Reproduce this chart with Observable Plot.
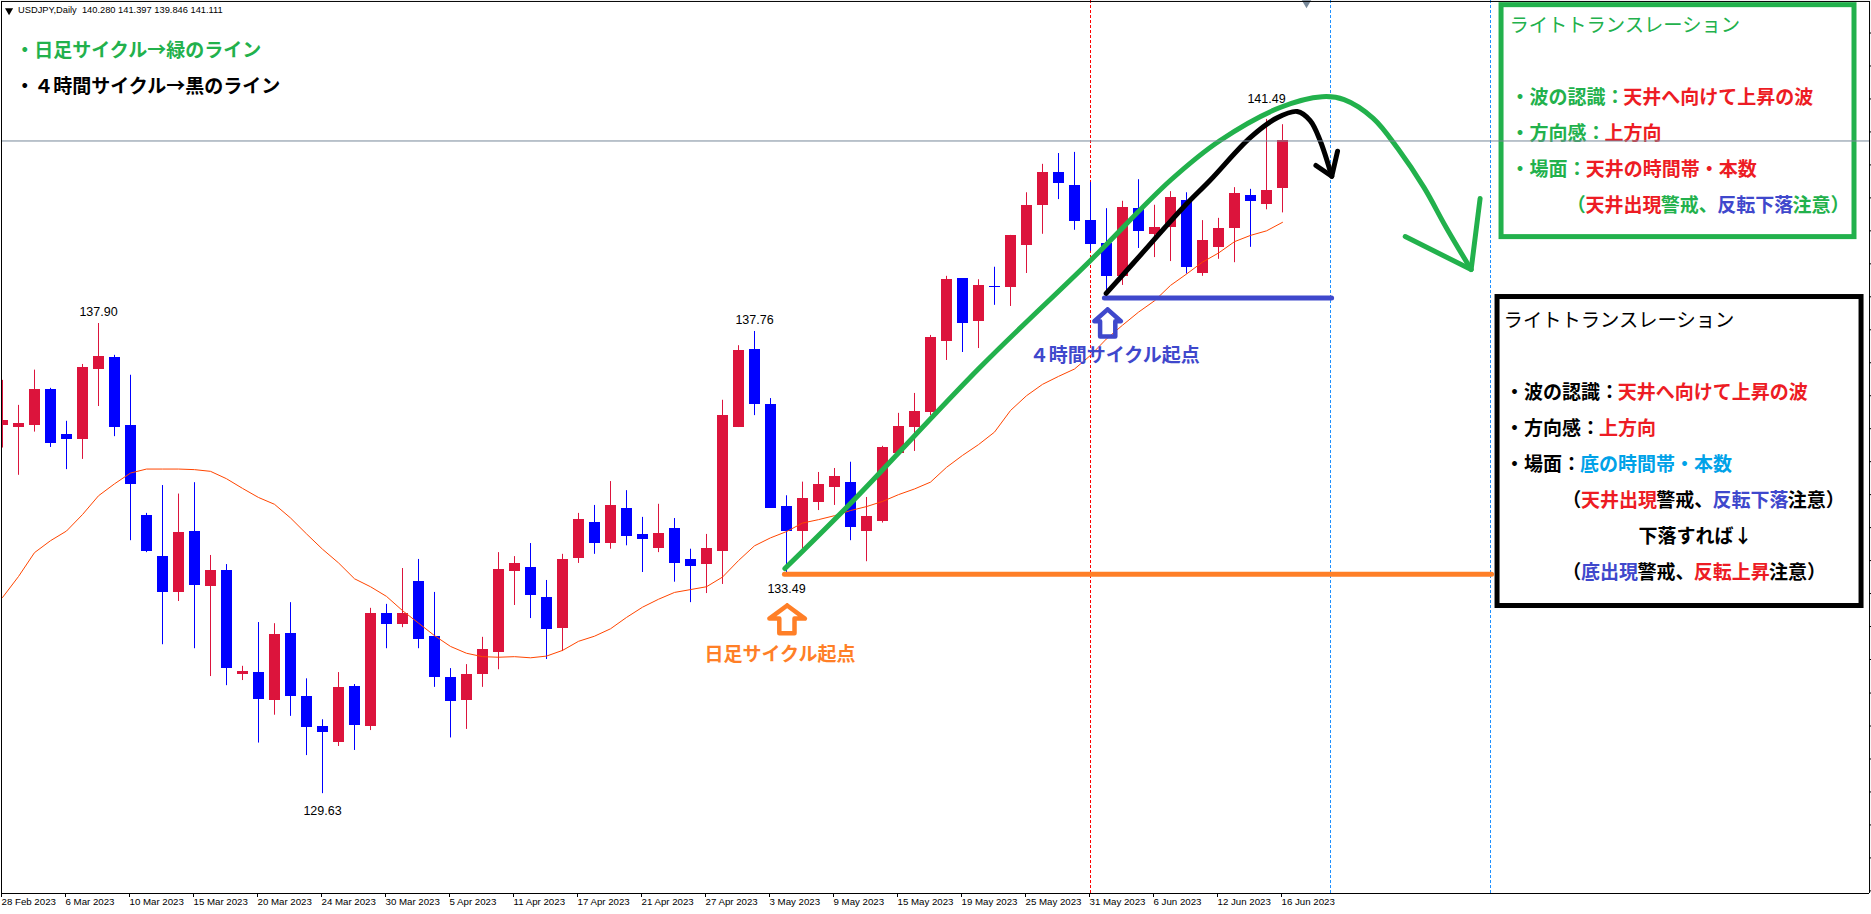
<!DOCTYPE html>
<html lang="ja">
<head>
<meta charset="utf-8">
<title>USDJPY,Daily</title>
<script src="https://cdn.jsdelivr.net/npm/d3@7"></script>
<script src="https://cdn.jsdelivr.net/npm/@observablehq/plot@0.6"></script>
<style>
html,body{margin:0;padding:0;background:#fff;overflow:hidden}
svg{display:block}
</style>
</head>
<body>
<div id="chart"></div>
<script>
// ---- Candles (one per trading day, x = bar number) ----
const opens = [136.11,136.07,136.11,136.74,135.95,135.86,137.09,137.30,136.11,134.53,133.81,133.17,134.24,133.27,133.56,131.73,131.76,131.27,132.45,131.34,130.81,130.53,131.52,130.81,132.80,132.61,133.36,132.40,131.67,131.27,131.73,132.11,133.54,133.61,133.08,132.54,133.77,134.40,134.03,134.65,134.19,133.94,134.29,133.75,133.66,133.89,136.07,137.44,136.47,134.68,134.24,134.75,135.01,135.10,134.24,134.42,135.61,136.07,136.34,137.58,138.69,137.93,138.55,138.53,139.27,139.97,140.56,140.33,139.71,139.31,138.72,139.92,139.47,139.59,140.06,138.78,139.24,139.57,140.15,139.99,140.28];
const highs = [136.90,136.46,137.08,136.76,136.18,137.18,137.90,137.34,136.99,134.56,135.05,134.90,135.10,133.82,133.66,131.87,132.64,132.62,132.99,131.65,130.93,131.76,131.55,132.89,132.96,133.59,133.75,133.17,131.83,131.90,132.38,133.87,133.80,134.03,133.38,133.84,134.56,134.70,135.12,134.96,134.49,134.72,134.47,133.93,134.19,136.55,137.51,137.76,136.58,134.87,135.11,135.28,135.35,135.46,134.84,135.74,136.32,136.67,137.69,138.73,138.69,138.67,138.89,139.45,140.20,140.70,140.89,140.91,140.38,139.92,140.05,140.43,139.98,140.22,140.20,139.71,139.75,140.29,140.26,141.49,141.397];
const lows = [135.71,135.23,135.99,135.72,135.33,135.51,136.44,135.91,134.08,133.87,132.25,133.01,132.18,131.69,131.53,131.62,130.52,131.01,130.99,130.30,129.63,130.46,130.39,130.74,132.18,132.55,132.18,131.50,130.61,130.76,131.50,131.81,132.94,132.71,131.99,132.13,133.68,133.84,133.93,133.99,133.52,133.87,133.35,132.99,133.15,133.31,136.07,136.28,134.65,133.49,133.94,134.61,134.70,134.08,133.71,134.39,135.58,135.65,136.28,137.25,137.39,137.46,138.22,138.20,138.78,139.47,140.08,139.54,139.17,138.45,138.57,139.22,139.06,138.99,138.77,138.73,139.03,138.97,139.24,139.90,139.846];
const closes = [136.19,136.14,136.74,135.79,135.86,137.12,137.32,136.07,135.07,133.89,133.17,134.22,133.29,133.56,131.83,131.78,131.29,132.43,131.34,130.79,130.71,131.50,130.83,132.80,132.61,132.80,132.35,131.67,131.25,131.73,132.17,133.57,133.68,133.12,132.52,133.75,134.45,134.03,134.70,134.15,134.10,134.21,133.67,133.63,133.94,136.28,137.43,136.47,134.65,134.24,134.82,135.07,135.21,134.31,134.51,135.72,136.09,136.35,137.65,138.67,137.90,138.57,138.53,139.45,139.97,140.56,140.36,139.69,139.29,138.73,139.94,139.52,139.59,140.12,138.89,139.36,139.57,140.19,140.05,140.24,141.111];
const movingAverage = [133.08,133.45,133.87,134.08,134.25,134.54,134.87,135.08,135.27,135.34,135.34,135.34,135.33,135.30,135.17,135.00,134.84,134.72,134.48,134.20,133.93,133.69,133.41,133.27,133.10,132.85,132.63,132.41,132.22,132.10,132.04,132.03,132.04,132.02,132.05,132.15,132.31,132.40,132.53,132.73,132.91,133.05,133.17,133.22,133.27,133.44,133.73,133.99,134.13,134.24,134.39,134.45,134.52,134.61,134.68,134.77,134.89,134.99,135.11,135.37,135.58,135.77,135.99,136.37,136.63,136.83,136.97,137.10,137.34,137.63,137.87,138.10,138.30,138.57,138.77,138.98,139.14,139.34,139.45,139.53,139.68];

// ---- Axis ----
const tickBars = [0,4,8,12,16,20,24,28,32,36,40,44,48,52,56,60,64,68,72,76,80];
const tickDates = ["28 Feb 2023","6 Mar 2023","10 Mar 2023","15 Mar 2023","20 Mar 2023","24 Mar 2023","30 Mar 2023","5 Apr 2023","11 Apr 2023","17 Apr 2023","21 Apr 2023","27 Apr 2023","3 May 2023","9 May 2023","15 May 2023","19 May 2023","25 May 2023","31 May 2023","6 Jun 2023","12 Jun 2023","16 Jun 2023"];
const priceTicks = [143.01,142.43,141.85,141.27,140.69,140.11,139.53,138.95,138.37,137.79,137.21,136.63,136.05,135.47,134.89,134.31,133.73,133.15,132.57,131.99,131.40,130.82,130.24,129.66,129.08,128.50,127.92];

// ---- High / low labels ----
const peakBars = [6,20,47,49,79];
const peakPrices = [137.90,129.63,137.76,133.49,141.49];
const peakOffsets = [-12,17,-11,15,-20];

// ---- Hand drawn lines, as [bar, price] ----
const greenCycle = [[48.9,133.59],[52.98,134.73],[61.1,137.13],[68.0,139.01],[73.0,140.42],[76.1,141.12],[79.85,141.70],[82.48,141.89],[83.85,141.84],[85.67,141.51],[87.23,140.97],[88.85,140.29],[90.23,139.59],[91.79,138.85]];
const greenHead = [[87.67,139.43],[91.79,138.85],[92.35,140.10]];
const blackCycle = [[68.98,138.43],[70.67,138.96],[73.79,139.94],[75.48,140.42],[77.98,141.17],[79.67,141.52],[80.92,141.63],[81.73,141.47],[82.35,141.12],[83.08,140.49]];
const blackHead = [[82.09,140.68],[83.08,140.49],[83.44,140.93]];
const orangeArrow = [[49.04,132.94],[50.15,132.71],[49.5,132.71],[49.5,132.45],[48.55,132.45],[48.55,132.71],[47.93,132.71],[49.04,132.94]];
const blueArrow = [[69.07,138.15],[69.9,137.94],[69.55,137.94],[69.55,137.67],[68.6,137.67],[68.6,137.94],[68.24,137.94],[69.07,138.15]];
const orangeLevel = {bar1:48.9, bar2:93.1, price:133.49};
const blueLevel = {bar1:68.9, bar2:83.1, price:138.35};
const bidPrice = 141.111;

// ---- Colours ----
const GREEN="#22b14c", RED="#ed1c24", INDIGO="#3f48cc", ORANGE="#ff7f27", SKY="#00a2e8", BLACK="#000000";

// ---- Text lines: bar, price, weight, [[text, colour], ...] ----
const CELL = 18.8;
const textLines = [
  [0.79,142.70,700,[["・日足サイクル→緑のライン",GREEN]]],
  [0.79,142.07,700,[["・４時間サイクル→黒のライン",BLACK]]],
  [43.875,132.078,700,[["日足サイクル起点",ORANGE]]],
  [64.2,137.338,700,[["４時間サイクル起点",INDIGO]]],
  [94.18,143.14,400,[["ライトトランスレーション",GREEN]]],
  [94.25,141.876,700,[["・波の認識：",GREEN],["天井へ向けて上昇の波",RED]]],
  [94.25,141.243,700,[["・方向感：",GREEN],["上方向",RED]]],
  [94.25,140.61,700,[["・場面：",GREEN],["天井の時間帯・本数",RED]]],
  [97.77,139.976,700,[["（",GREEN],["天井出現",RED],["警戒、",GREEN],["反転下落",INDIGO],["注意）",GREEN]]],
  [93.82,137.953,400,[["ライトトランスレーション",BLACK]]],
  [93.9,136.687,700,[["・波の認識：",BLACK],["天井へ向けて上昇の波",RED]]],
  [93.9,136.054,700,[["・方向感：",BLACK],["上方向",RED]]],
  [93.9,135.42,700,[["・場面：",BLACK],["底の時間帯・本数",SKY]]],
  [97.48,134.787,700,[["（",BLACK],["天井出現",RED],["警戒、",BLACK],["反転下落",INDIGO],["注意）",BLACK]]],
  [102.25,134.154,700,[["下落すれば↓",BLACK]]],
  [97.48,133.52,700,[["（",BLACK],["底出現",INDIGO],["警戒、",BLACK],["反転上昇",RED],["注意）",BLACK]]]
];

// ---- Tables built from the arrays above ----
const candles = opens.map((o,i)=>({i,o,h:highs[i],l:lows[i],c:closes[i]}));
const ups = candles.filter(d=>d.c>=d.o);
const downs = candles.filter(d=>d.c<d.o);
const ma = movingAverage.map((v,i)=>({i,v}));
const segments = [];
for (const [bar,price,weight,parts] of textLines) {
  let used = 0;
  for (const [text,fill] of parts) {
    segments.push({bar:bar+used*CELL/16,price,weight,text,fill});
    used += [...text].length;
  }
}
const HALF = 5.5/16;
const frameBar1=-0.0625, frameBar2=116.69, topPrice=143.565, bottomPrice=127.874;
const wick = (data,stroke)=>Plot.ruleX(data,{x:"i",y1:"l",y2:"h",stroke,strokeWidth:1,clip:true});
const body = (data,fill)=>Plot.rect(data,{x1:d=>d.i-HALF,x2:d=>d.i+HALF,y1:"o",y2:"c",fill,dx:0.5,clip:true,shapeRendering:"crispEdges"});
const pen = (pts,stroke,strokeWidth,curve="linear")=>Plot.line(pts,{x:d=>d[0],y:d=>d[1],stroke,strokeWidth,curve,strokeLinecap:"round",strokeLinejoin:"round"});
const vLine = (bar,stroke)=>Plot.ruleX([bar],{y1:bottomPrice,y2:143.582,stroke,strokeWidth:1,strokeDasharray:"3,2"});
const textBlock = (weight,fontSize)=>Plot.text(segments.filter(d=>d.weight===weight),{x:"bar",y:"price",text:"text",fill:"fill",textAnchor:"start",lineAnchor:"middle",fontFamily:"'Noto Sans CJK JP'",fontSize,fontWeight:weight});
const peakLabels = peakBars.map((b,i)=>Plot.text([peakPrices[i].toFixed(2)],{x:b,y:peakPrices[i],text:d=>d,dy:peakOffsets[i],fontSize:12.5,fill:"#000",lineAnchor:"middle"}));

const chart = Plot.plot({
  width:1871,height:914,
  marginLeft:2,marginRight:0,marginTop:0,marginBottom:21,
  style:{background:"#fff",fontFamily:"'Liberation Sans'"},
  x:{domain:[0,116.8125],range:[2,1871],axis:null},
  y:{domain:[143.582,127.874],range:[0,893],axis:null},
  marks:[
    vLine(68,"#ff0000"),vLine(83,"#1e90ff"),vLine(93,"#1e90ff"),
    wick(ups,"#dc143c"),wick(downs,"#0000ff"),
    body(ups,"#dc143c"),body(downs,"#0000ff"),
    Plot.line(ma,{x:"i",y:"v",stroke:"#ff4500",strokeWidth:1}),
    ...peakLabels,
    // annotation boxes
    Plot.rect([0],{x1:93.69,x2:115.75,y1:143.50,y2:139.42,fill:"#fff",stroke:GREEN,strokeWidth:5}),
    Plot.rect([0],{x1:93.44,x2:116.19,y1:138.366,y2:132.931,fill:"#fff",stroke:BLACK,strokeWidth:5}),
    textBlock(400,19.3),textBlock(700,19),
    // levels
    Plot.ruleY([orangeLevel.price],{x1:orangeLevel.bar1,x2:orangeLevel.bar2,stroke:ORANGE,strokeWidth:5,strokeLinecap:"round"}),
    Plot.ruleY([blueLevel.price],{x1:blueLevel.bar1,x2:blueLevel.bar2,stroke:INDIGO,strokeWidth:5,strokeLinecap:"round"}),
    // hand-drawn cycles
    pen(greenCycle,GREEN,5,"catmull-rom"),pen(greenHead,GREEN,5),
    pen(blackCycle,BLACK,5,"catmull-rom"),pen(blackHead,BLACK,5),
    pen(orangeArrow,ORANGE,4.5),pen(blueArrow,INDIGO,4.5),
    // bid line, shift marker, frame
    Plot.ruleY([bidPrice],{x1:frameBar1,x2:frameBar2,stroke:"#778899",strokeWidth:1}),
    Plot.dot([81.5],{x:d=>d,y:143.54,symbol:"triangle",rotate:180,r:3.5,fill:"#778899"}),
    Plot.ruleY([topPrice],{x1:frameBar1,x2:frameBar2,stroke:"#000",strokeWidth:1}),
    Plot.ruleY([bottomPrice],{x1:frameBar1,x2:frameBar2,stroke:"#000",strokeWidth:1}),
    Plot.ruleX([frameBar1],{y1:topPrice,y2:bottomPrice,stroke:"#000",strokeWidth:1}),
    Plot.ruleX([frameBar2],{y1:topPrice,y2:bottomPrice,stroke:"#000",strokeWidth:1}),
    Plot.ruleY(priceTicks,{x1:frameBar2,x2:116.8125,stroke:"#000",strokeWidth:1}),
    // header
    Plot.dot([0.41],{x:d=>d,y:143.406,symbol:"triangle",rotate:180,r:3,fill:"#000"}),
    Plot.text(["USDJPY,Daily\u00a0 140.280 141.397 139.846 141.111"],{x:0.97,y:143.406,text:d=>d,textAnchor:"start",lineAnchor:"middle",fontSize:9.3,fill:"#000"}),
    // date axis
    Plot.axisX(tickBars,{anchor:"bottom",tickSize:4,tickPadding:1,tickFormat:b=>tickDates[tickBars.indexOf(b)],textAnchor:"start",fontSize:9.7,dx:-1,fill:"#000",stroke:"#000",strokeWidth:1,label:null})
  ]
});
document.getElementById("chart").append(chart);
</script>
</body>
</html>
